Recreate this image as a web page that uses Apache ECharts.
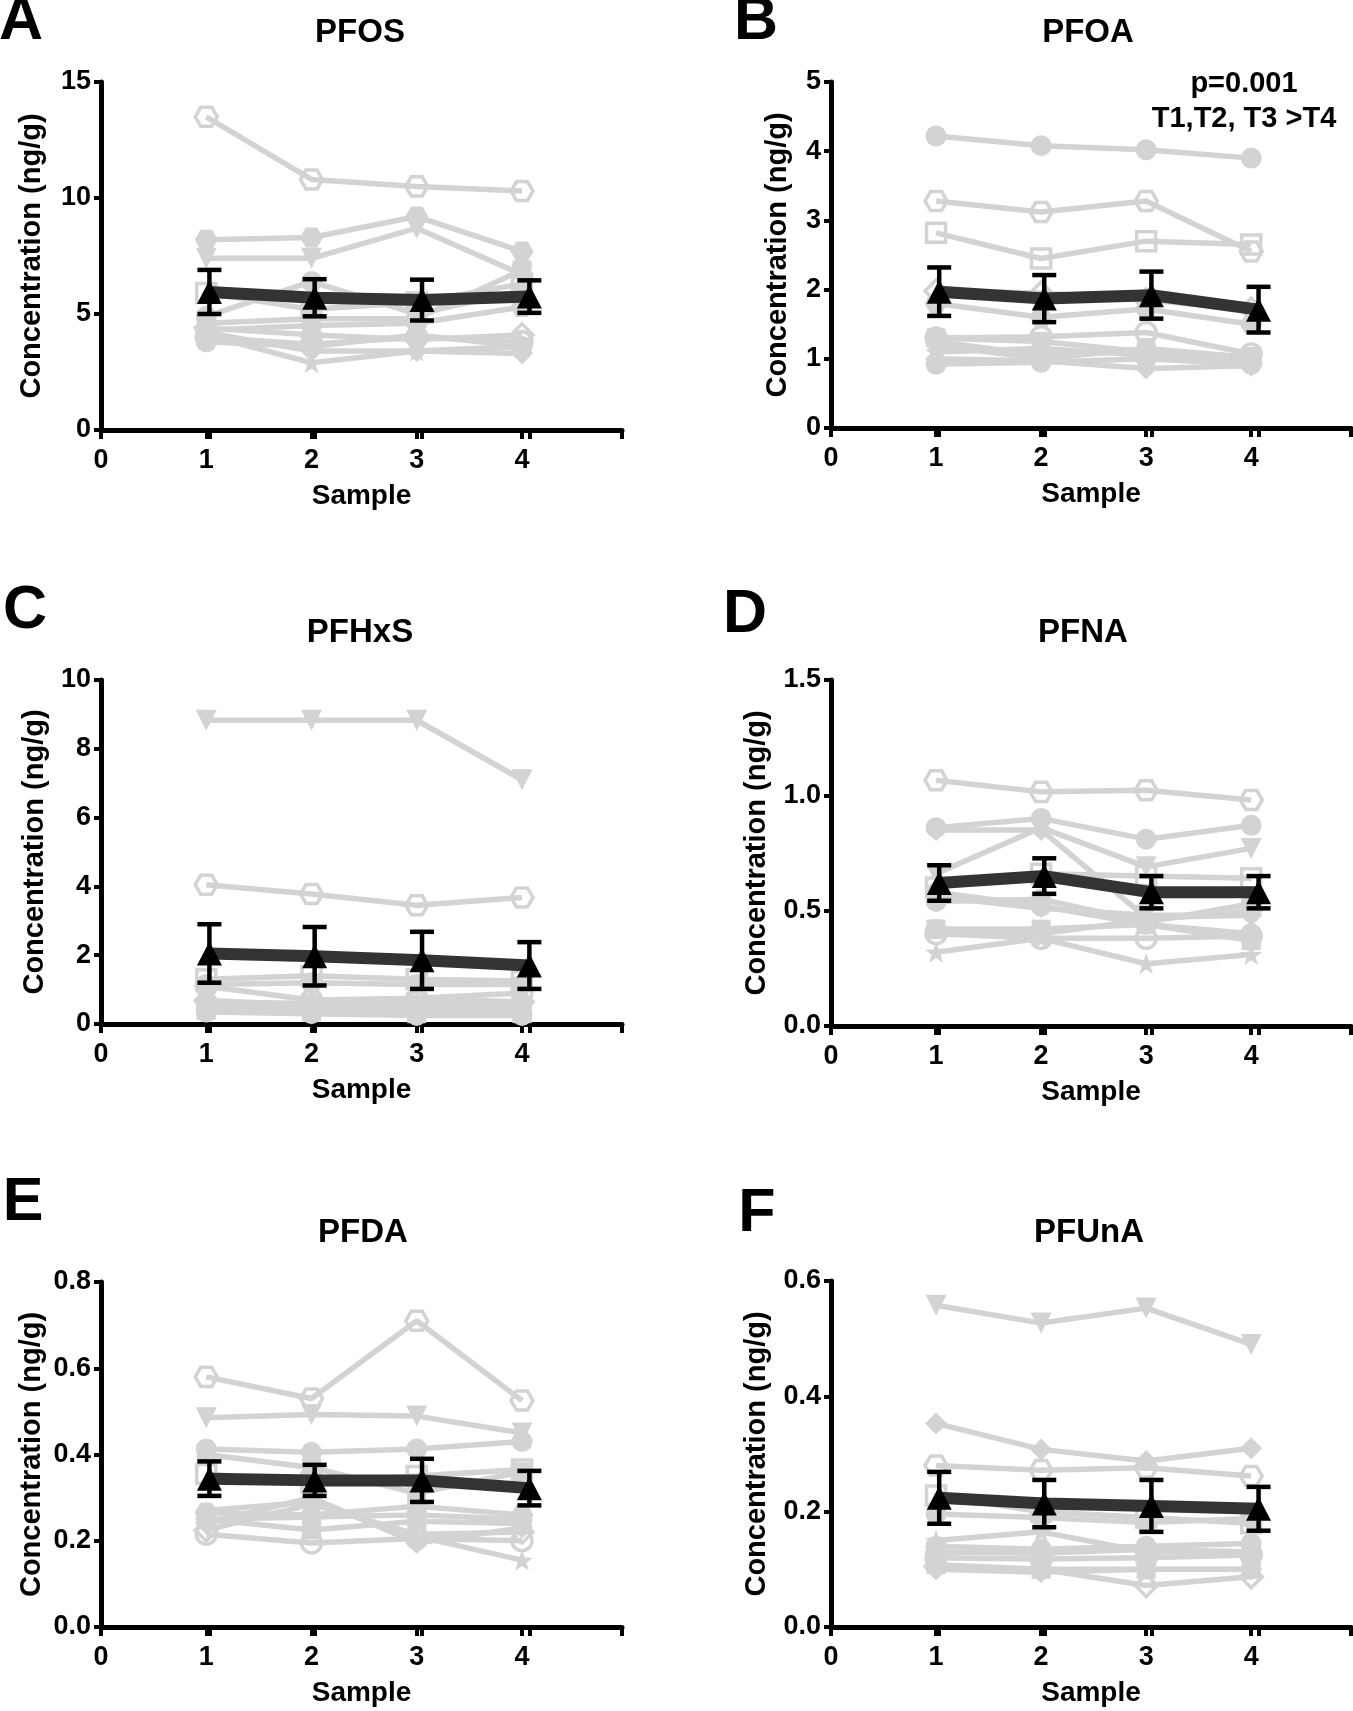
<!DOCTYPE html>
<html>
<head>
<meta charset="utf-8">
<script src="https://cdn.jsdelivr.net/npm/echarts@6/dist/echarts.min.js"></script>
<style>
html,body{margin:0;padding:0;background:#fff;}
#chart{width:1353px;height:1711px;}
</style>
</head>
<body>
<div id="chart"></div>
<script>
// ---------------- data ----------------
const sampleTicks = [0, 1, 2, 3, 4];
const sampleX = [1, 2, 3, 4];
const meanX = [1.03, 2.03, 3.05, 4.07];

const pfosShapes = ['hexOpen','hexFill','triDown','sqFill','sqOpen','circFill','circFill','circOpen','star','diaFill','diaOpen','hexFill'];
const pfosValues = [
  [13.5, 10.8, 10.5, 10.3],
  [8.2, 8.3, 9.2, 7.7],
  [7.4, 7.4, 8.7, 6.7],
  [4.6, 4.8, 4.8, 6.9],
  [5.9, 5.2, 5.5, 6.3],
  [4.9, 6.4, 5.0, 6.0],
  [3.8, 3.6, 4.1, 3.6],
  [4.0, 3.7, 4.0, 3.8],
  [4.1, 2.9, 3.4, 3.6],
  [4.2, 3.4, 3.4, 3.3],
  [4.4, 4.1, 3.9, 4.1],
  [4.3, 4.5, 4.6, 5.3]
];
const pfosMean = [5.95, 5.7, 5.6, 5.75];
const pfosSem = [0.95, 0.8, 0.88, 0.7];

const pfoaShapes = ['circFill','hexOpen','sqOpen','diaOpen','hexFill','circOpen','sqFill','hexFill','star','circFill','diaFill','triDown'];
const pfoaValues = [
  [4.22, 4.08, 4.02, 3.9],
  [3.28, 3.12, 3.28, 2.55],
  [2.82, 2.45, 2.7, 2.65],
  [1.98, 1.95, 1.85, 1.72],
  [1.8, 1.6, 1.72, 1.5],
  [1.3, 1.32, 1.38, 1.07],
  [1.3, 1.25, 1.1, 1.0],
  [1.25, 1.05, 1.12, 0.95],
  [1.1, 1.15, 1.05, 0.98],
  [0.92, 0.95, 1.0, 0.92],
  [1.0, 0.97, 0.86, 0.9],
  [1.2, 1.0, 1.15, 1.02]
];
const pfoaMean = [1.97, 1.87, 1.92, 1.71];
const pfoaSem = [0.35, 0.34, 0.34, 0.33];

const pfhxsShapes = ['triDown','hexOpen','sqOpen','circFill','circOpen','sqFill','hexFill','diaFill','star','diaOpen','circFill','sqFill'];
const pfhxsValues = [
  [8.83, 8.83, 8.83, 7.1],
  [4.05, 3.78, 3.45, 3.68],
  [1.3, 1.4, 1.3, 1.25],
  [1.15, 1.2, 1.15, 1.15],
  [1.1, 0.7, 0.75, 0.9],
  [0.55, 0.5, 0.5, 0.45],
  [0.62, 0.6, 0.55, 0.6],
  [0.45, 0.4, 0.4, 0.35],
  [0.5, 0.45, 0.35, 0.55],
  [0.68, 0.55, 0.72, 0.65],
  [0.35, 0.3, 0.25, 0.25],
  [0.4, 0.35, 0.3, 0.3]
];
const pfhxsMean = [2.05, 1.97, 1.85, 1.7];
const pfhxsSem = [0.85, 0.85, 0.83, 0.68];

const pfnaShapes = ['hexOpen','circFill','diaFill','triDown','sqOpen','circFill','triDown','sqFill','circOpen','star','hexFill','circFill'];
const pfnaValues = [
  [1.065, 1.015, 1.022, 0.98],
  [0.86, 0.9, 0.81, 0.87],
  [0.85, 0.85, 0.47, 0.48],
  [0.66, 0.86, 0.69, 0.77],
  [0.6, 0.66, 0.65, 0.64],
  [0.54, 0.55, 0.45, 0.53],
  [0.56, 0.51, 0.48, 0.48],
  [0.42, 0.42, 0.44, 0.37],
  [0.4, 0.38, 0.38, 0.39],
  [0.32, 0.38, 0.27, 0.31],
  [0.42, 0.4, 0.46, 0.5],
  [0.58, 0.52, 0.44, 0.4]
];
const pfnaMean = [0.62, 0.65, 0.58, 0.58];
const pfnaSem = [0.077, 0.077, 0.07, 0.07];

const pfdaShapes = ['hexOpen','triDown','circFill','sqOpen','sqFill','star','diaFill','circOpen','sqFill','hexFill','circFill','diaOpen'];
const pfdaValues = [
  [0.58, 0.53, 0.71, 0.525],
  [0.485, 0.493, 0.489, 0.45],
  [0.413, 0.405, 0.413, 0.43],
  [0.355, 0.335, 0.35, 0.365],
  [0.4, 0.37, 0.31, 0.36],
  [0.27, 0.29, 0.21, 0.155],
  [0.24, 0.3, 0.195, 0.23],
  [0.215, 0.195, 0.205, 0.2],
  [0.25, 0.225, 0.245, 0.24],
  [0.265, 0.26, 0.28, 0.26],
  [0.25, 0.255, 0.26, 0.25],
  [0.225, 0.285, 0.215, 0.22]
];
const pfdaMean = [0.344, 0.34, 0.34, 0.322];
const pfdaSem = [0.04, 0.036, 0.05, 0.04];

const pfunaShapes = ['triDown','diaFill','hexOpen','sqOpen','circFill','star','circFill','hexFill','circOpen','sqFill','diaOpen','diaFill'];
const pfunaValues = [
  [0.558, 0.527, 0.553, 0.49],
  [0.353, 0.308, 0.288, 0.31],
  [0.28, 0.272, 0.276, 0.262],
  [0.228, 0.2, 0.19, 0.18],
  [0.196, 0.19, 0.181, 0.188],
  [0.15, 0.165, 0.13, 0.13],
  [0.14, 0.135, 0.14, 0.145],
  [0.13, 0.128, 0.135, 0.13],
  [0.12, 0.118, 0.12, 0.125],
  [0.108, 0.1, 0.1, 0.1],
  [0.105, 0.1, 0.072, 0.087],
  [0.1, 0.095, 0.1, 0.1]
];
const pfunaMean = [0.224, 0.214, 0.21, 0.205];
const pfunaSem = [0.045, 0.041, 0.045, 0.038];

const panelTitles = ['PFOS','PFOA','PFHxS','PFNA','PFDA','PFUnA'];
const panelLetters = ['A','B','C','D','E','F'];
const yMax = [15, 5, 10, 1.5, 0.8, 0.6];
const yStep = [5, 1, 2, 0.5, 0.2, 0.2];
const yDecimals = [0, 0, 0, 1, 1, 1];
const pNote = ['p=0.001', 'T1,T2, T3 >T4'];

// ---------------- style / layout ----------------
const GREY = '#d3d3d3';
const FONT = "'Liberation Sans',Arial,sans-serif";
const HEX = 'path://M-10,0L-5,-8.66L5,-8.66L10,0L5,8.66L-5,8.66Z';
const STAR = 'path://M0,-10L2.35,-3.24L9.51,-3.09L3.8,1.24L5.88,8.09L0,4L-5.88,8.09L-3.8,1.24L-9.51,-3.09L-2.35,-3.24Z';
const shapeDefs = {
  hexOpen:  {symbol: HEX, size: 22, open: true},
  hexFill:  {symbol: HEX, size: 23, open: false},
  triDown:  {symbol: 'triangle', size: 21, open: false, rotate: 180},
  sqOpen:   {symbol: 'rect', size: 19, open: true},
  sqFill:   {symbol: 'rect', size: 19, open: false},
  circFill: {symbol: 'circle', size: 21, open: false},
  circOpen: {symbol: 'circle', size: 20, open: true},
  star:     {symbol: STAR, size: 22, open: false},
  diaFill:  {symbol: 'diamond', size: 22, open: false},
  diaOpen:  {symbol: 'diamond', size: 22, open: true}
};

const grids = [
  {left: 101, top: 82,   width: 521, height: 348},
  {left: 831, top: 82,   width: 520, height: 346},
  {left: 101, top: 680,  width: 521, height: 344},
  {left: 831, top: 680,  width: 520, height: 346},
  {left: 101, top: 1282, width: 521, height: 345},
  {left: 831, top: 1281, width: 520, height: 346}
];
const yNameGap = [55, 39, 52, 60, 55, 60];
const titlePos = [[360,33],[1088,33],[360,633],[1083,633],[363,1233],[1089,1233]];
const letterPos = [[21,22],[756,22],[25,611],[745,615],[23,1203],[757,1214]];

const panels = [
  {shapes: pfosShapes, values: pfosValues, mean: pfosMean, sem: pfosSem},
  {shapes: pfoaShapes, values: pfoaValues, mean: pfoaMean, sem: pfoaSem},
  {shapes: pfhxsShapes, values: pfhxsValues, mean: pfhxsMean, sem: pfhxsSem},
  {shapes: pfnaShapes, values: pfnaValues, mean: pfnaMean, sem: pfnaSem},
  {shapes: pfdaShapes, values: pfdaValues, mean: pfdaMean, sem: pfdaSem},
  {shapes: pfunaShapes, values: pfunaValues, mean: pfunaMean, sem: pfunaSem}
];

function errorRender(params, api) {
  const x = api.value(0), m = api.value(1), s = api.value(2);
  const top = api.coord([x, m + s]);
  const bot = api.coord([x, m - s]);
  const w = 12;
  const st = {stroke: '#000', lineWidth: 4.5};
  return {type: 'group', children: [
    {type: 'line', shape: {x1: top[0], y1: top[1], x2: bot[0], y2: bot[1]}, style: st},
    {type: 'line', shape: {x1: top[0] - w, y1: top[1], x2: top[0] + w, y2: top[1]}, style: st},
    {type: 'line', shape: {x1: bot[0] - w, y1: bot[1], x2: bot[0] + w, y2: bot[1]}, style: st}
  ]};
}

const xAxes = [], yAxes = [], series = [], graphics = [];
const tickValues = [0, 1, 2, 3, 4].concat(meanX).concat([4.95]);

panels.forEach((p, i) => {
  xAxes.push({
    type: 'value', gridIndex: i, min: 0, max: 4.95,
    name: 'Sample', nameLocation: 'middle', nameGap: 52,
    nameTextStyle: {fontFamily: FONT, fontWeight: 'bold', fontSize: 28, color: '#000'},
    axisLine: {show: true, onZero: false, lineStyle: {color: '#000', width: 5}},
    axisTick: {show: true, length: 9, inside: false, lineStyle: {color: '#000', width: 4}, customValues: tickValues},
    axisLabel: {show: true, margin: 17, fontFamily: FONT, fontWeight: 'bold', fontSize: 27, color: '#000', customValues: sampleTicks},
    splitLine: {show: false}
  });
  yAxes.push({
    type: 'value', gridIndex: i, min: 0, max: yMax[i], interval: yStep[i],
    name: 'Concentration (ng/g)', nameLocation: 'middle', nameGap: yNameGap[i], nameRotate: 90,
    nameTextStyle: {fontFamily: FONT, fontWeight: 'bold', fontSize: 29, color: '#000'},
    axisLine: {show: true, lineStyle: {color: '#000', width: 5}},
    axisTick: {show: true, length: 7, lineStyle: {color: '#000', width: 4}},
    axisLabel: {margin: 10, fontFamily: FONT, fontWeight: 'bold', fontSize: 27, color: '#000',
      formatter: v => Number(v).toFixed(yDecimals[i])},
    splitLine: {show: false}
  });
  p.values.forEach((row, k) => {
    const d = shapeDefs[p.shapes[k]];
    series.push({
      type: 'line', xAxisIndex: i, yAxisIndex: i, z: 2,
      data: row.map((v, j) => [sampleX[j], v]),
      symbol: d.symbol, symbolSize: d.size, symbolKeepAspect: true, symbolRotate: d.rotate || 0,
      showAllSymbol: true,
      lineStyle: {color: GREY, width: 5.5},
      itemStyle: d.open ? {color: 'none', borderColor: GREY, borderWidth: 3.5} : {color: GREY, borderWidth: 0},
      emphasis: {disabled: true}, silent: true, animation: false
    });
  });
  series.push({
    type: 'custom', xAxisIndex: i, yAxisIndex: i, z: 3,
    renderItem: errorRender,
    encode: {x: 0, y: 1},
    data: p.mean.map((m, j) => [meanX[j], m, p.sem[j]]),
    silent: true, animation: false
  });
  series.push({
    type: 'line', xAxisIndex: i, yAxisIndex: i, z: 4,
    data: p.mean.map((m, j) => [meanX[j], m]),
    symbol: 'triangle', symbolSize: [25, 24],
    lineStyle: {color: '#333', width: 12},
    itemStyle: {color: '#000'},
    emphasis: {disabled: true}, silent: true, animation: false
  });
  graphics.push({type: 'text', x: titlePos[i][0], y: titlePos[i][1],
    style: {text: panelTitles[i], align: 'center', verticalAlign: 'middle', fontFamily: FONT, fontWeight: 'bold', fontSize: 33, fill: '#000'}});
  graphics.push({type: 'text', x: letterPos[i][0], y: letterPos[i][1],
    style: {text: panelLetters[i], align: 'center', verticalAlign: 'middle', fontFamily: FONT, fontWeight: 'bold', fontSize: 61, fill: '#000'}});
});

graphics.push({type: 'text', x: 1244, y: 84,
  style: {text: pNote[0], align: 'center', verticalAlign: 'middle', fontFamily: FONT, fontWeight: 'bold', fontSize: 29, fill: '#000'}});
graphics.push({type: 'text', x: 1244, y: 119,
  style: {text: pNote[1], align: 'center', verticalAlign: 'middle', fontFamily: FONT, fontWeight: 'bold', fontSize: 29, fill: '#000'}});

const chart = echarts.init(document.getElementById('chart'), null, {renderer: 'canvas'});
chart.setOption({
  animation: false,
  backgroundColor: '#fff',
  grid: grids.map(g => Object.assign({containLabel: false}, g)),
  xAxis: xAxes,
  yAxis: yAxes,
  series: series,
  graphic: graphics
});
</script>
</body>
</html>
